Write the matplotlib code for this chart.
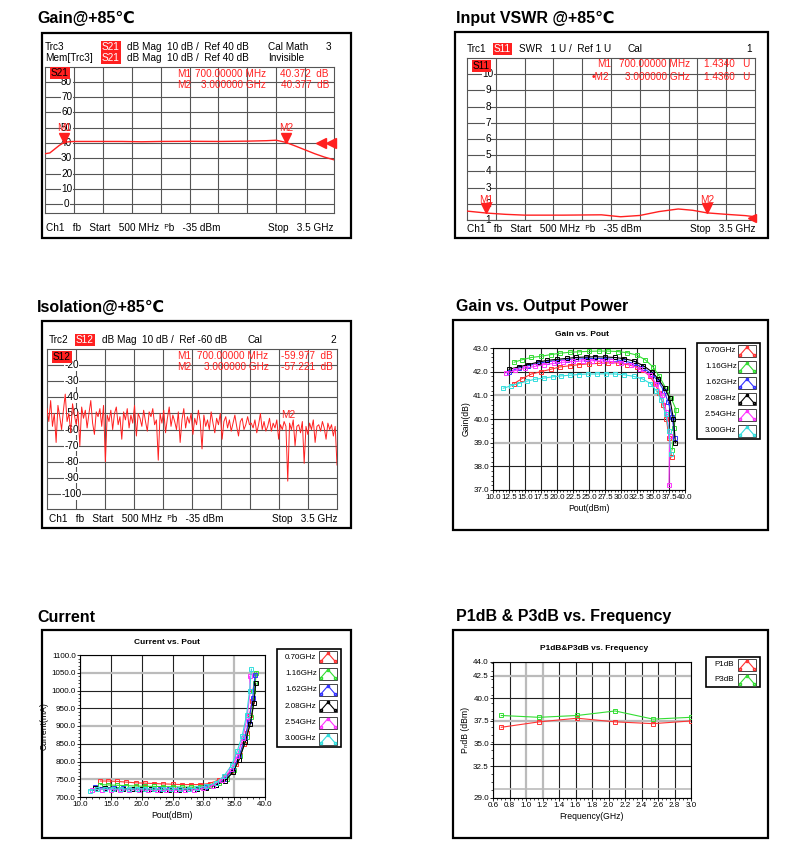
import numpy as np
import matplotlib
matplotlib.use("Agg")
import matplotlib.pyplot as plt
from matplotlib.patches import Rectangle

plt.rcParams["font.family"] = ["Liberation Sans", "DejaVu Sans"]

W, H = 794, 859

# ---------------- data ----------------
# Gain@+85C (S21)
gain_f = [0.5, 0.55, 0.6, 0.65, 0.7, 0.75, 0.8, 1.0, 1.3, 1.5, 1.7, 2.0, 2.3, 2.6, 2.8, 2.9, 3.0, 3.1, 3.2, 3.3, 3.4, 3.5]
gain_v = [33, 33.5, 36, 38.5, 40.4, 40.8, 41, 41, 41, 40.8, 41, 41.1, 41, 41.2, 41.5, 41.8, 40.4, 38, 35.5, 33, 30.8, 29]

# Input VSWR (S11)
vswr_f = [0.5, 0.7, 0.9, 1.1, 1.5, 1.9, 2.1, 2.3, 2.5, 2.7, 2.85, 3.0, 3.2, 3.4, 3.5]
vswr_v = [1.55, 1.43, 1.35, 1.3, 1.3, 1.32, 1.2, 1.28, 1.52, 1.68, 1.6, 1.44, 1.35, 1.27, 1.2]

# Isolation (S12), sweep 0.5..3.5 GHz
iso_v = [-47, -55, -42, -58, -50, -68, -45, -52, -60, -48, -38, -55, -50, -62, -44, -51, -57, -49, -70, -46,
         -53, -48, -59, -50, -42, -56, -63, -49, -52, -47, -58, -45, -80, -51, -55, -48, -60, -50, -46, -57,
         -52, -66, -49, -54, -47, -59, -51, -56, -45, -64, -50, -53, -58, -48, -55, -61, -49, -52, -47, -57,
         -54, -79, -50, -56, -48, -62, -53, -46, -58, -51, -55, -60, -49, -68, -54, -47, -59, -52, -56, -50,
         -63, -53, -57, -48, -55, -72, -51, -58, -54, -60, -49, -56, -62, -53, -57, -50, -66, -55, -52, -59,
         -54, -61, -56, -51, -58, -64, -55, -53, -60, -57, -52, -57, -56, -59, -54, -62, -57, -50, -60, -55,
         -61, -58, -53, -61, -56, -59, -54, -66, -57, -60, -55, -58, -92, -56, -60, -54, -70, -58, -57, -62,
         -55, -81, -58, -63, -56, -60, -54, -68, -58, -57, -61, -55, -59, -66, -56, -60, -57, -64, -58, -82]
iso_f = np.linspace(0.5, 3.5, len(iso_v))

freq_labels = ["0.70GHz", "1.16GHz", "1.62GHz", "2.08GHz", "2.54GHz", "3.00GHz"]
colors = ["#ff3333", "#33dd33", "#3333ff", "#000000", "#ff33ff", "#33dddd"]

pout = [
    [13.3, 14.5, 16, 17.5, 19, 20.5, 22, 23.5, 25, 26.5, 28, 29.5, 31, 32.5, 33.5, 34.5, 35.3, 36, 36.6, 37.1, 37.5, 37.9],
    [13.3, 14.5, 16, 17.5, 19, 20.5, 22, 23.5, 25, 26.5, 28, 29.5, 31, 32.5, 33.8, 35, 36, 37, 37.8, 38.6, 38.3, 38.0],
    [12.5, 14, 15.5, 17, 18.5, 20, 21.5, 23, 24.5, 26, 27.5, 29, 30.5, 32, 33.5, 34.8, 35.8, 36.7, 37.4, 38, 38.4],
    [12.5, 14, 15.5, 17, 18.5, 20, 21.5, 23, 24.5, 26, 27.5, 29, 30.5, 32, 33.5, 34.8, 35.8, 36.8, 37.6, 38.2, 38.5],
    [12, 13.5, 15, 16.5, 18, 19.5, 21, 22.5, 24, 25.5, 27, 28.5, 30, 31.5, 33, 34.5, 35.5, 36.4, 37.1, 37.6, 37.5],
    [11.6, 12.8, 14, 15.3, 16.6, 18, 19.3, 20.6, 22, 23.4, 24.8, 26.2, 27.6, 29, 30.5, 32, 33.3, 34.6, 35.5, 36.3, 37, 37.5, 37.8],
]
gain_pout = [
    [41.5, 41.7, 41.9, 42.0, 42.1, 42.2, 42.25, 42.3, 42.33, 42.35, 42.37, 42.37, 42.3, 42.2, 42.05, 41.8, 41.5, 41.1, 40.6, 40.0, 39.2, 38.4],
    [42.4, 42.5, 42.6, 42.65, 42.72, 42.78, 42.82, 42.84, 42.86, 42.87, 42.87, 42.85, 42.8, 42.7, 42.5, 42.2, 41.8, 41.3, 40.9, 40.4, 39.6, 38.7],
    [42.0, 42.15, 42.25, 42.35, 42.42, 42.47, 42.5, 42.53, 42.55, 42.56, 42.55, 42.52, 42.45, 42.35, 42.15, 41.9, 41.6, 41.2, 40.7, 40.1, 39.2],
    [42.1, 42.2, 42.3, 42.4, 42.48, 42.52, 42.56, 42.6, 42.62, 42.63, 42.62, 42.6, 42.55, 42.45, 42.25, 42.0, 41.7, 41.3, 40.9, 40.0, 39.0],
    [41.95, 42.05, 42.15, 42.22, 42.3, 42.35, 42.4, 42.43, 42.45, 42.46, 42.45, 42.43, 42.38, 42.3, 42.1, 41.85, 41.5, 41.0, 40.3, 39.3, 37.2],
    [41.3, 41.4, 41.5, 41.6, 41.68, 41.73, 41.78, 41.82, 41.85, 41.88, 41.9, 41.9, 41.91, 41.9, 41.87, 41.8, 41.7, 41.5, 41.2, 40.8, 40.2, 39.5, 38.5],
]
current = [
    [745, 745, 744, 742, 740, 739, 738, 737, 736, 735, 735, 735, 738, 748, 758, 772, 792, 818, 848, 880, 930, 970],
    [735, 734, 733, 732, 731, 730, 730, 729, 729, 728, 728, 729, 732, 740, 752, 775, 815, 870, 925, 1050, 1020, 1000],
    [728, 726, 725, 724, 723, 723, 722, 722, 722, 722, 722, 723, 727, 735, 750, 778, 815, 865, 915, 980, 1045],
    [725, 724, 723, 723, 722, 722, 722, 721, 721, 721, 722, 723, 726, 733, 745, 770, 805, 855, 905, 965, 1020],
    [720, 721, 721, 720, 720, 720, 719, 719, 719, 719, 719, 720, 724, 732, 748, 778, 815, 865, 925, 1000, 1040],
    [718, 722, 723, 723, 723, 723, 723, 723, 722, 722, 722, 722, 723, 725, 730, 740, 758, 790, 830, 872, 930, 1000, 1060],
]

p_freq = [0.70, 1.16, 1.62, 2.08, 2.54, 3.00]
p1db = [36.8, 37.4, 37.8, 37.4, 37.2, 37.5]
p3db = [38.1, 37.9, 38.1, 38.6, 37.7, 37.9]

# ---------------- helpers ----------------
fig = plt.figure(figsize=(W / 100, H / 100), dpi=100)


def ax_px(x0, y0, x1, y1):
    return fig.add_axes([x0 / W, 1 - y1 / H, (x1 - x0) / W, (y1 - y0) / H])


bg = fig.add_axes([0, 0, 1, 1], zorder=10)
bg.set_xlim(0, W)
bg.set_ylim(H, 0)
bg.axis("off")
bg.patch.set_alpha(0)

RED = "#ff2020"
FS = 7.2  # analyzer screen font


def frame(x0, y0, x1, y1):
    bg.add_patch(Rectangle((x0, y0), x1 - x0, y1 - y0, fill=False, ec="black", lw=1.6))


def title(x, y, s):
    bg.text(x, y, s, fontsize=11.5, fontweight="bold", va="center", ha="left")


def tag(x, y, s, fc=RED, tc="white"):
    bg.text(x, y, s, fontsize=FS, color=tc, va="center", ha="left",
            bbox=dict(boxstyle="square,pad=0.12", fc=fc, ec="none"))


def vna_grid(box, ylim, ylabs, lab_x):
    ax = ax_px(*box)
    ax.set_xlim(0.5, 3.5)
    ax.set_ylim(*ylim)
    for s in ax.spines.values():
        s.set_color("#555555")
        s.set_linewidth(0.8)
    ax.set_xticks([])
    ax.set_yticks([])
    for k in range(1, 10):
        ax.axvline(0.5 + 0.3 * k, color="#555555", lw=0.8, zorder=1)
    for v in ylabs:
        ax.axhline(v, color="#555555", lw=0.8, zorder=1)
        ax.text(lab_x, v, str(v), fontsize=FS, ha="center", va="center", zorder=2,
                bbox=dict(boxstyle="square,pad=0.05", fc="white", ec="none"))
    return ax


def vna_text(x, y, s, color="black", ha="left"):
    bg.text(x, y, s, fontsize=FS, color=color, ha=ha, va="center")


def marker_rows(y, x_m, x_f, x_r, m, f, v):
    vna_text(x_m, y, m, RED)
    vna_text(x_f, y, f, RED)
    vna_text(x_r, y, v, RED, ha="right")


# ---------------- Gain@+85 ----------------
title(37, 18, "Gain@+85\u2103")
frame(42, 33, 351, 238)
ax = vna_grid((45, 67, 334, 213), (-5.7, 89.6), [80, 70, 60, 50, 40, 30, 20, 10, 0], 0.725)
ax.plot(gain_f, gain_v, color=RED, lw=1, zorder=3)
ax.plot([0.7, 3.0], [43.5, 43.5], "v", color=RED, ms=7, zorder=4)
ax.text(0.7, 50, "M1", color=RED, fontsize=FS, ha="center", va="center", zorder=4)
ax.text(3.0, 50, "M2", color=RED, fontsize=FS, ha="center", va="center", zorder=4)
ax.plot([3.36, 3.47], [40, 40], "<", color=RED, ms=7, zorder=4, clip_on=False)
vna_text(45, 47, "Trc3")
tag(102, 47, "S21")
vna_text(127, 47, "dB Mag  10 dB /  Ref 40 dB")
vna_text(268, 47, "Cal Math")
vna_text(331, 47, "3", ha="right")
vna_text(45, 58, "Mem[Trc3]")
tag(102, 58, "S21")
vna_text(127, 58, "dB Mag  10 dB /  Ref 40 dB")
vna_text(268, 58, "Invisible")
tag(51, 73, "S21", tc="black")
marker_rows(74, 177, 195, 329, "M1", "700.00000 MHz", "40.372  dB")
marker_rows(85, 177, 201, 329, "M2", "3.000000 GHz", "40.377  dB")
vna_text(46, 228, "Ch1   fb   Start   500 MHz  \u1d3eb   -35 dBm")
vna_text(334, 228, "Stop   3.5 GHz", ha="right")

# ---------------- Input VSWR ----------------
title(456, 18, "Input VSWR @+85\u2103")
frame(455, 32, 768, 238)
ax = vna_grid((467, 58, 755, 220), (1, 11), [10, 9, 8, 7, 6, 5, 4, 3, 2, 1], 0.72)
ax.plot(vswr_f, vswr_v, color=RED, lw=1, zorder=3)
ax.plot([0.7, 3.0], [1.75, 1.75], "v", color=RED, ms=7, zorder=4)
ax.text(0.7, 2.25, "M1", color=RED, fontsize=FS, ha="center", va="center", zorder=4)
ax.text(3.0, 2.25, "M2", color=RED, fontsize=FS, ha="center", va="center", zorder=4)
ax.plot([3.47], [1.15], "<", color=RED, ms=6, zorder=4, clip_on=False)
vna_text(467, 49, "Trc1")
tag(494, 49, "S11")
vna_text(519, 49, "SWR   1 U /  Ref 1 U")
vna_text(627, 49, "Cal")
vna_text(752, 49, "1", ha="right")
tag(473, 66, "S11", tc="black")
marker_rows(64, 597, 619, 750, "M1", "700.00000 MHz", "1.4340   U")
marker_rows(77, 592, 625, 750, "\u2022M2", "3.000000 GHz", "1.4360   U")
vna_text(467, 229, "Ch1   fb   Start   500 MHz  \u1d3eb   -35 dBm")
vna_text(755, 229, "Stop   3.5 GHz", ha="right")

# ---------------- Isolation ----------------
title(37, 307, "Isolation@+85\u2103")
frame(42, 321, 351, 528)
ax = vna_grid((47, 349, 337, 509), (-109.3, -10), [-20, -30, -40, -50, -60, -70, -80, -90, -100], 0.755)
ax.plot(iso_f, iso_v, color=RED, lw=0.7, zorder=3)
ax.text(3.0, -51, "M2", color=RED, fontsize=FS, ha="center", va="center", zorder=4)
vna_text(49, 340, "Trc2")
tag(76, 340, "S12")
vna_text(102, 340, "dB Mag  10 dB /  Ref -60 dB")
vna_text(247, 340, "Cal")
vna_text(336, 340, "2", ha="right")
tag(53, 357, "S12", tc="black")
marker_rows(356, 177, 197, 333, "M1", "700.00000 MHz", "-59.977  dB")
marker_rows(367, 177, 204, 333, "M2", "3.000000 GHz", "-57.221  dB")
vna_text(49, 519, "Ch1   fb   Start   500 MHz  \u1d3eb   -35 dBm")
vna_text(337, 519, "Stop   3.5 GHz", ha="right")


# ---------------- measurement charts ----------------
def chart(box, xlim, xticks, ylim, yticks, xlab, ylab, grey_x=(), grey_y=()):
    ax = ax_px(*box)
    ax.set_xlim(*xlim)
    ax.set_ylim(*ylim)
    ax.set_xticks(xticks)
    ax.set_yticks(yticks)
    ax.set_xticklabels([f"{v:.1f}" for v in xticks])
    ax.set_yticklabels([f"{v:.1f}" for v in yticks])
    ax.tick_params(labelsize=5.8, length=2, width=0.6, pad=1)
    ax.minorticks_on()
    ax.tick_params(which="minor", length=1.2, width=0.5)
    for v in xticks:
        ax.axvline(v, color="#bbbbbb" if v in grey_x else "#222222", lw=1.6 if v in grey_x else 0.8, zorder=1)
    for v in yticks:
        ax.axhline(v, color="#bbbbbb" if v in grey_y else "#222222", lw=1.6 if v in grey_y else 0.8, zorder=1)
    for s in ax.spines.values():
        s.set_linewidth(0.8)
    ax.set_xlabel(xlab, fontsize=6.2, labelpad=2)
    ax.set_ylabel(ylab, fontsize=6.2, labelpad=2)
    return ax


def legend_box(x0, y0, x1, y1, labels, cols):
    bg.add_patch(Rectangle((x0, y0), x1 - x0, y1 - y0, fill=False, ec="black", lw=1.2))
    rh = (y1 - y0) / len(labels)
    for i, (lab, c) in enumerate(zip(labels, cols)):
        yc = y0 + rh * (i + 0.5)
        bg.text(x0 + 8, yc, lab, fontsize=5.8, va="center", ha="left")
        ix0, ix1 = x1 - 22, x1 - 4
        bg.add_patch(Rectangle((ix0, yc - 6), ix1 - ix0, 12, fill=False, ec="#444444", lw=0.7))
        bg.plot([ix0 + 2, (ix0 + ix1) / 2, ix1 - 2], [yc + 4, yc - 4, yc + 4], color=c, lw=0.8,
                marker="s", ms=2, mfc="none", mec=c)


title(456, 307, "Gain vs. Output Power")
frame(453, 320, 768, 530)
bg.text(582, 335, "Gain vs. Pout", fontsize=6, fontweight="bold", ha="center", va="center")
ax = chart((493, 348, 685, 490), (10, 40), list(np.arange(10, 40.1, 2.5)), (37, 43),
           [37.0, 38.0, 39.0, 40.0, 41.0, 42.0, 43.0], "Pout(dBm)", "Gain(dB)",
           grey_y=(39.0, 41.0))
for x, y, c in zip(pout, gain_pout, colors):
    ax.plot(x, y, color=c, lw=0.8, marker="s", ms=2.2, mfc="none", mec=c, mew=0.7, zorder=3)
legend_box(697, 343, 760, 439, freq_labels, colors)

title(37, 617, "Current")
frame(42, 630, 351, 838)
bg.text(167, 642, "Current vs. Pout", fontsize=6, fontweight="bold", ha="center", va="center")
ax = chart((80, 655, 265, 797), (10, 40), [10.0, 15.0, 20.0, 25.0, 30.0, 35.0, 40.0], (700, 1100),
           list(np.arange(700, 1100.1, 50)), "Pout(dBm)", "Current(mA)",
           grey_x=(35.0,), grey_y=(750.0, 900.0, 1050.0))
for x, y, c in zip(pout, current, colors):
    ax.plot(x, y, color=c, lw=0.8, marker="s", ms=2.2, mfc="none", mec=c, mew=0.7, zorder=3)
legend_box(277, 649, 341, 747, freq_labels, colors)

title(456, 617, "P1dB & P3dB vs. Frequency")
frame(453, 630, 768, 838)
bg.text(594, 649, "P1dB&P3dB vs. Frequency", fontsize=6, fontweight="bold", ha="center", va="center")
px = [0.6, 0.8, 1.0, 1.2, 1.4, 1.6, 1.8, 2.0, 2.2, 2.4, 2.6, 2.8, 3.0]
ax = chart((493, 662, 691, 798), (0.6, 3.0), px, (29, 44),
           [29.0, 32.5, 35.0, 37.5, 40.0, 42.5, 44.0], "Frequency(GHz)", "P\u2099dB (dBm)",
           grey_x=(1.0, 1.2), grey_y=(37.5, 42.5))
ax.axhline(30, color="#bbbbbb", lw=1.2, zorder=1)
ax.plot(p_freq, p1db, color=colors[0], lw=0.8, marker="s", ms=2.2, mfc="none", mew=0.7, zorder=3)
ax.plot(p_freq, p3db, color=colors[1], lw=0.8, marker="s", ms=2.2, mfc="none", mew=0.7, zorder=3)
legend_box(706, 657, 760, 687, ["P1dB", "P3dB"], colors[:2])

fig.savefig("out.png", dpi=100)
